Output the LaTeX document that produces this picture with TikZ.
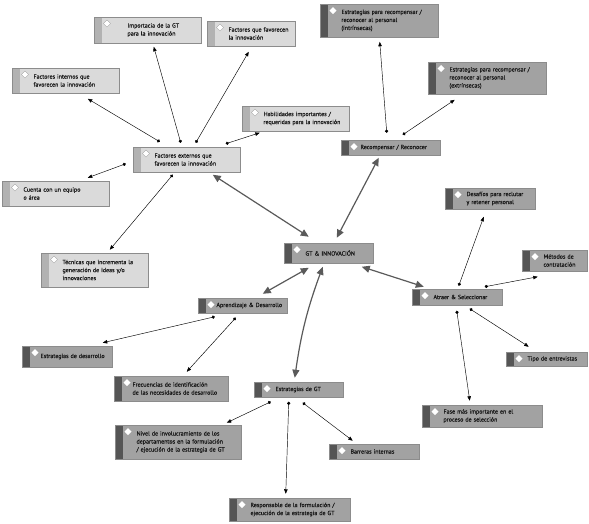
\documentclass[tikz,border=0pt]{standalone}
\usepackage{fontspec}
\setmainfont{PT Sans}
\newfontfamily\gtfont{PT Sans}[FakeBold=0.5]
\usetikzlibrary{arrows.meta}
\definecolor{gtlightfill}{RGB}{218,218,218}
\definecolor{gtlightbar}{RGB}{178,178,178}
\definecolor{gtdarkfill}{RGB}{162,162,162}
\definecolor{gtdarkbar}{RGB}{85,85,85}
\definecolor{gtedge}{RGB}{140,140,140}
\definecolor{gtthick}{RGB}{90,90,90}
\definecolor{gttext}{RGB}{25,25,25}

\begin{document}
\begin{tikzpicture}[x=1pt,y=-1pt,
  gtindent/.store in=\gtind, gtindent=20pt,
  gtbox/.style={draw=gtedge,line width=0.5pt,inner xsep=1pt,inner ysep=1pt,minimum width=#1pt,
    text width=#1pt-3pt,align=left,font=\gtfont\fontsize{6}{8}\selectfont,text=gttext,
    execute at begin node={\leftskip=\gtind}},
  gtlight/.style={gtbox=#1,fill=gtlightfill,path picture={
    \fill[gtlightbar] (path picture bounding box.north west) rectangle ([xshift=7.5pt]path picture bounding box.south west);
    \filldraw[fill=white,draw=gtedge,line width=0.3pt] ([shift={(13pt,-6.5pt)}]path picture bounding box.north west)
      +(-3.5pt,0) -- +(0,3.5pt) -- +(3.5pt,0) -- +(0,-3.5pt) -- cycle;}},
  gtdark/.style={gtbox=#1,fill=gtdarkfill,path picture={
    \fill[gtdarkbar] (path picture bounding box.north west) rectangle ([xshift=7.5pt]path picture bounding box.south west);
    \fill[white] ([shift={(13pt,-6.5pt)}]path picture bounding box.north west)
      +(-3.5pt,0) -- +(0,3.5pt) -- +(3.5pt,0) -- +(0,-3.5pt) -- cycle;}},
  gtlink/.style={{Circle[length=3.2pt]}-{Triangle[length=4.5pt,width=3.5pt]},line width=0.45pt,black},
  gtarr/.style={{Triangle[length=8pt,width=7pt]}-{Triangle[length=8pt,width=7pt]},line width=1.2pt,gtthick}
]
  \useasboundingbox[fill=white] (0,0) rectangle (589,523);
  % Factores externos
  \node[gtlight=107,minimum height=26pt,gtindent=32pt] (imp) at (147.5,30) {Importacia de la GT\\para la innovación};
  \node[gtlight=88,minimum height=25pt] (ffav) at (251,33.5) {Factores que favorecen\\la innovación};
  \node[gtlight=107,minimum height=25pt] (fint) at (65.5,80.5) {Factores internos que\\favorecen la innovación};
  \node[gtlight=107,minimum height=25pt] (hab) at (295.5,118.5) {Habilidades importantes /\\requeridas para la innovación};
  \node[gtlight=107,minimum height=25pt] (fext) at (186.5,159.5) {Factores externos que\\favorecen la innovación};
  \node[gtlight=107,minimum height=25pt] (cuenta) at (55.5,193.5) {Cuenta con un equipo\\o área};
  \node[gtlight=107,minimum height=34pt] (tec) at (94.5,270) {Técnicas que incrementa la\\generación de ideas y/o\\innovaciones};
  % Recompensar
  \node[gtdark=118,minimum height=33pt] (rint) at (379,20.5) {Estrategias para recompensar /\\reconocer al personal\\(intrínsecas)};
  \node[gtdark=118,minimum height=32pt] (rext) at (487,78) {Estrategias para recompensar /\\reconocer al personal\\(extrínsecas)};
  \node[gtdark=99,minimum height=15pt,gtindent=18pt] (rec) at (390.5,147.5) {Recompensar / Reconocer};
  % Centro
  \node[gtdark=89,minimum height=20pt] (gt) at (328.5,253) {GT \& INNOVACIÓN};
  % Atraer
  \node[gtdark=90,minimum height=21pt] (des) at (490,198.5) {Desafíos para reclutar\\y retener personal};
  \node[gtdark=65,minimum height=21pt] (met) at (554.5,260.5) {Métodos de\\contratación};
  \node[gtdark=90,minimum height=16pt] (atr) at (457,297) {Atraer \& Seleccionar};
  \node[gtdark=81,minimum height=14pt] (tipo) at (546.5,359) {Tipo de entrevistas};
  \node[gtdark=120,minimum height=22pt] (fase) at (482,416) {Fase más importante en el\\proceso de selección};
  % Aprendizaje
  \node[gtdark=89,minimum height=15pt,gtindent=17pt] (apr) at (242.5,305.5) {Aprendizaje \& Desarrollo};
  \node[gtdark=90,minimum height=21pt,gtindent=17pt] (edes) at (67,356.5) {Estrategias de desarrollo};
  \node[gtdark=114,minimum height=25pt,gtindent=17pt] (frec) at (171,388.5) {Frecuencias de identificación\\de las necesidades de desarrollo};
  % Estrategias de GT
  \node[gtdark=89,minimum height=15pt] (egt) at (298.5,389.5) {Estrategias de GT};
  \node[gtdark=126,minimum height=34pt] (niv) at (178,442) {Nivel de involucramiento de los\\departamentos en la formulación\\/ ejecución de la estrategia de GT};
  \node[gtdark=90,minimum height=15pt] (barr) at (374,451.5) {Barreras internas};
  \node[gtdark=121,minimum height=23pt] (resp) at (289.5,509.5) {Responsable de la formulación /\\ejecución de la estrategia de GT};
  % Thin links
  \draw[gtlink] ([shift={(27pt,5pt)}]fext.north west) -- ([shift={(76pt,-31pt)}]fint.north west);
  \draw[gtlink] ([shift={(48pt,4pt)}]fext.north west) -- ([shift={(60pt,-30pt)}]imp.north west);
  \draw[gtlink] ([shift={(63pt,4pt)}]fext.north west) -- ([shift={(42pt,-31pt)}]ffav.north west);
  \draw[gtlink] ([shift={(93pt,3pt)}]fext.north west) -- ([shift={(18pt,-27pt)}]hab.north west);
  \draw[gtlink] ([shift={(-7pt,-17pt)}]fext.north west) -- ([shift={(86pt,3pt)}]cuenta.north west);
  \draw[gtlink] ([shift={(40pt,-28pt)}]fext.north west) -- ([shift={(69pt,3pt)}]tec.north west);
  \draw[gtlink] ([shift={(46pt,7pt)}]rec.north west) -- ([shift={(60pt,-38pt)}]rint.north west);
  \draw[gtlink] ([shift={(62pt,5pt)}]rec.north west) -- ([shift={(27pt,-38pt)}]rext.north west);
  \draw[gtlink] ([shift={(47pt,3pt)}]atr.north west) -- ([shift={(39pt,-29pt)}]des.north west);
  \draw[gtlink] ([shift={(73pt,2pt)}]atr.north west) -- ([shift={(16pt,-27pt)}]met.north west);
  \draw[gtlink] ([shift={(45pt,-22pt)}]atr.north west) -- ([shift={(48pt,4pt)}]fase.north west);
  \draw[gtlink] ([shift={(58pt,-20pt)}]atr.north west) -- ([shift={(23pt,5pt)}]tipo.north west);
  \draw[gtlink] ([shift={(17pt,-19pt)}]apr.north west) -- ([shift={(81pt,3pt)}]edes.north west);
  \draw[gtlink] ([shift={(38pt,-20pt)}]apr.north west) -- ([shift={(73pt,4pt)}]frec.north west);
  \draw[gtlink] ([shift={(17pt,-20pt)}]egt.north west) -- ([shift={(112pt,2pt)}]niv.north west);
  \draw[gtlink] ([shift={(35pt,-20pt)}]egt.north west) -- ([shift={(57pt,4pt)}]resp.north west);
  \draw[gtlink] ([shift={(49pt,-21pt)}]egt.north west) -- ([shift={(24pt,3pt)}]barr.north west);
  % Thick links to the centre
  \draw[gtarr] ([shift={(80pt,-28pt)}]fext.north west) -- ([shift={(25pt,6pt)}]gt.north west);
  \draw[gtarr] ([shift={(38pt,-18pt)}]rec.north west) -- ([shift={(53pt,5pt)}]gt.north west);
  \draw[gtarr] ([shift={(78pt,-24pt)}]gt.north west) -- ([shift={(12pt,2pt)}]atr.north west);
  \draw[gtarr] ([shift={(25pt,-25pt)}]gt.north west) -- ([shift={(65pt,4pt)}]apr.north west);
  \draw[gtarr] ([shift={(39pt,-24pt)}]gt.north west) to[bend right=6] ([shift={(41pt,4pt)}]egt.north west);
\end{tikzpicture}
\end{document}
